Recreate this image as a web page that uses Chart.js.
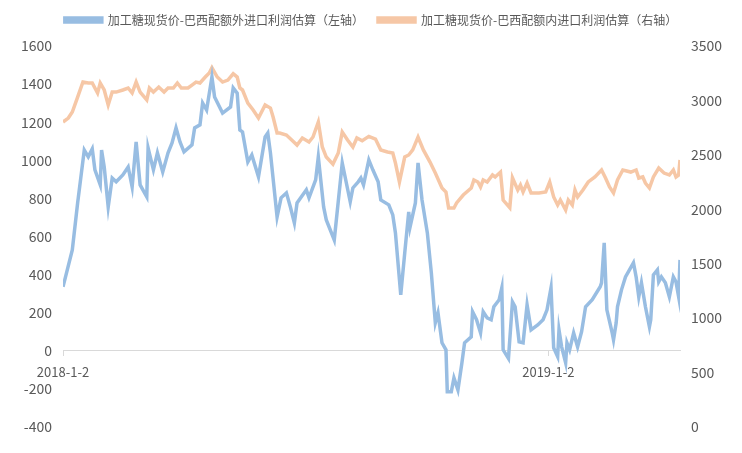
<!DOCTYPE html>
<html>
<head>
<meta charset="utf-8">
<script src="https://cdn.jsdelivr.net/npm/chart.js@4/dist/chart.umd.min.js"></script>
<style>
body { margin: 0; background: #ffffff; }
#grafico { display: block; }
</style>
</head>
<body>
<canvas id="grafico" width="742" height="453"></canvas>
<script>
// nombres de las series
var nombres = ["加工糖现货价-巴西配额外进口利润估算（左轴）", "加工糖现货价-巴西配额内进口利润估算（右轴）"];

// dias desde 2018-1-2 y valores (serie 1, eje izquierdo)
var diasAzul = [0, 7, 11, 16, 19, 22, 24, 28, 29, 31, 34, 37, 40, 45, 49, 52, 55, 58, 63, 64,
	68, 71, 75, 79, 82, 85, 88, 91, 97, 99, 103, 105, 108, 112, 114, 120, 126, 128, 131, 133,
	135, 139, 142, 147, 152, 154, 156, 161, 164, 168, 171, 174, 176, 183, 185, 190, 192, 196, 198, 204,
	210, 216, 218, 222, 224, 226, 230, 233, 237, 239, 245, 248, 250, 254, 257, 260, 261, 265, 267, 270,
	274, 277, 280, 282, 285, 288, 289, 292, 294, 297, 300, 302, 307, 308, 311, 314, 316, 319, 322, 324,
	328, 330, 331, 335, 338, 340, 343, 346, 349, 352, 357, 361, 364, 367, 369, 372, 373, 375, 378, 379,
	381, 384, 387, 390, 393, 398, 404, 405, 407, 409, 413, 414, 416, 417, 420, 423, 429, 431, 433, 435,
	438, 441, 442, 444, 447, 448, 450, 453, 456, 459, 461, 463, 464];
var valoresAzul = [336, 530, 776, 1054, 1018, 1060, 950, 871, 1054, 965, 755, 907, 887, 923, 965, 860, 1096, 871, 808, 1065,
	950, 1039, 939, 1039, 1091, 1170, 1096, 1044, 1081, 1170, 1186, 1301, 1264, 1437, 1332, 1248, 1280, 1380, 1353, 1159,
	1149, 991, 1028, 913, 1123, 1143, 1039, 703, 803, 829, 755, 671, 776, 845, 803, 897, 1018, 755, 687, 582,
	986, 782, 855, 887, 907, 871, 1002, 950, 887, 792, 766, 713, 619, 294, 514, 729, 650, 776, 986, 792,
	619, 409, 147, 199, 42, 5, -215, -215, -142, -205, -63, 42, 73, 205, 163, 94, 205, 173, 163, 231,
	268, 330, 5, -40, 257, 231, 47, 42, 241, 110, 136, 163, 215, 330, 16, -31, 110, 21, -63, 42,
	5, 94, 21, 100, 231, 268, 336, 357, 567, 215, 94, 58, 147, 231, 320, 388, 462, 388, 283, 357,
	231, 126, 163, 399, 425, 362, 388, 357, 283, 388, 362, 283, 477];

// serie 2, eje derecho
var diasNaranja = [0, 4, 7, 11, 15, 19, 22, 26, 28, 31, 34, 37, 40, 45, 49, 52, 55, 58, 63, 65,
	68, 72, 76, 79, 83, 86, 89, 94, 97, 100, 103, 107, 110, 112, 116, 120, 124, 128, 131, 133,
	135, 139, 143, 147, 152, 156, 158, 161, 163, 168, 172, 176, 180, 185, 188, 192, 195, 198, 203, 207,
	210, 214, 218, 221, 225, 230, 235, 239, 244, 248, 250, 253, 257, 260, 263, 267, 271, 276, 280, 285,
	288, 290, 294, 296, 301, 307, 309, 312, 314, 316, 319, 323, 325, 329, 331, 336, 338, 342, 344, 346,
	349, 352, 358, 363, 366, 369, 372, 374, 378, 380, 383, 385, 387, 391, 395, 400, 405, 408, 411, 414,
	417, 421, 427, 431, 433, 436, 438, 441, 444, 448, 452, 456, 459, 461, 463, 464];
var valoresNaranja = [2802, 2838, 2894, 3031, 3169, 3160, 3160, 3068, 3160, 3096, 2958, 3077, 3077, 3096, 3114, 3068, 3169, 3077, 3004, 3114,
	3077, 3123, 3077, 3114, 3114, 3160, 3114, 3114, 3141, 3169, 3160, 3215, 3252, 3300, 3215, 3169, 3187, 3245, 3215, 3114,
	3096, 2976, 2912, 2838, 2958, 2930, 2848, 2701, 2701, 2682, 2637, 2590, 2655, 2618, 2664, 2802, 2572, 2480, 2415, 2517,
	2710, 2637, 2572, 2655, 2630, 2670, 2645, 2545, 2526, 2517, 2425, 2251, 2480, 2499, 2545, 2664, 2545, 2434, 2333, 2195,
	2159, 2012, 2012, 2058, 2131, 2195, 2269, 2251, 2205, 2269, 2251, 2315, 2297, 2342, 2085, 2015, 2290, 2177, 2223, 2159,
	2241, 2150, 2150, 2159, 2251, 2113, 2039, 2085, 1993, 2085, 2039, 2177, 2113, 2177, 2251, 2297, 2361, 2287, 2205, 2150,
	2269, 2361, 2342, 2361, 2287, 2297, 2241, 2195, 2297, 2379, 2333, 2315, 2361, 2297, 2315, 2453];

// etiquetas del eje x
var diasEtiqueta = [0, 365];
var etiquetasX = ["2018-1-2", "2019-1-2"];

var azul = "#98bde2";
var naranja = "#f6c7a6";
var gris = "#595959";

function armaPuntos(dias, valores)
{
	var puntos = [];
	for(i=0; i<dias.length; i++)
		puntos.push({x: dias[i], y: valores[i]});
	return puntos;
}

function sinComas(valor)
{
	return String(valor);
}

Chart.defaults.font.family = '"Noto Sans CJK SC", "Noto Sans", sans-serif';
Chart.defaults.color = gris;

var ctx = document.getElementById("grafico");
var grafico = new Chart(ctx, {
	type: 'line',
	data: {
		datasets: [
			{
				label: nombres[0],
				data: armaPuntos(diasAzul, valoresAzul),
				yAxisID: 'y',
				borderColor: azul,
				backgroundColor: azul,
				borderWidth: 3.5,
				pointRadius: 0,
				tension: 0
			},
			{
				label: nombres[1],
				data: armaPuntos(diasNaranja, valoresNaranja),
				yAxisID: 'y1',
				borderColor: naranja,
				backgroundColor: naranja,
				borderWidth: 3.5,
				pointRadius: 0,
				tension: 0
			}]
	},
	options: {
		responsive: false,
		animation: false,
		layout: {
			padding: { top: 0, bottom: 26 }
		},
		plugins: {
			legend: {
				labels: {
					boxWidth: 37,
					boxHeight: 4,
					padding: 14,
					color: gris,
					font: { size: 12 }
				}
			},
			tooltip: { enabled: false }
		},
		scales: {
			x: {
				type: 'linear',
				position: { y: 0 },
				min: 0,
				max: 464,
				afterBuildTicks: function(escala) {
					escala.ticks = diasEtiqueta.map(function(d) { return {value: d}; });
				},
				ticks: {
					autoSkip: false,
					maxRotation: 0,
					padding: 8,
					color: gris,
					font: { size: 13 },
					callback: function(valor) {
						return etiquetasX[diasEtiqueta.indexOf(valor)];
					}
				},
				grid: { drawOnChartArea: false, tickLength: 5, color: '#d9d9d9' },
				border: { color: '#d9d9d9', width: 1 }
			},
			y: {
				position: 'left',
				min: -400,
				max: 1600,
				ticks: { stepSize: 200, padding: 3, color: gris, font: { size: 14 }, callback: sinComas },
				grid: { display: false },
				border: { display: false },
				afterFit: function(escala) { escala.width = 63; }
			},
			y1: {
				position: 'right',
				min: 0,
				max: 3500,
				ticks: { stepSize: 500, padding: 3, color: gris, font: { size: 14 }, callback: sinComas },
				grid: { display: false },
				border: { display: false },
				afterFit: function(escala) { escala.width = 62; }
			}
		}
	}
});

// la leyenda deja mas aire antes del area del grafico
var fitLeyenda = grafico.legend.fit;
grafico.legend.fit = function()
{
	fitLeyenda.call(this);
	this.height += 10;
};
grafico.update();
</script>
</body>
</html>
